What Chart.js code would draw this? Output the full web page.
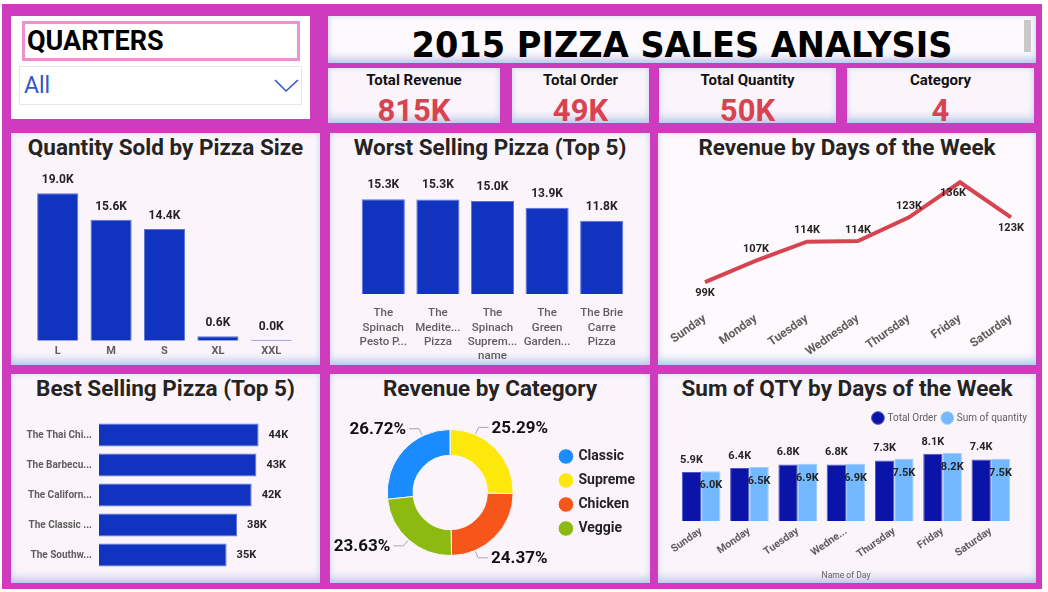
<!DOCTYPE html>
<html>
<head>
<meta charset="utf-8">
<script src="https://cdn.jsdelivr.net/npm/chart.js@4.4.0/dist/chart.umd.min.js"></script>
<style>
  body { margin:0; width:1048px; height:592px; background:#fff; position:relative; overflow:hidden; font-family:Roboto, "Noto Sans", sans-serif; }
  #bg { position:absolute; left:2px; top:4px; width:1040px; height:585px; background:#cf3bbf; }
  .card { position:absolute; background:#fbf4fb; box-shadow:inset 0 -8px 10px -4px #b3c6e6, inset 0 0 6px #d5e0f1; }
  .ttl { position:absolute; left:0; right:0; text-align:center; font-weight:700; font-size:22.5px; line-height:24px; color:#252423; }
  .box { position:absolute; }
  .kl { position:absolute; left:0; right:0; top:3px; text-align:center; font-weight:700; font-size:15px; color:#111; }
  .kv { position:absolute; left:0; right:0; top:27px; text-align:center; font-weight:700; font-size:31px; line-height:32px; color:#d9434f; }
</style>
</head>
<body>
<div id="bg"></div>

<!-- slicer -->
<div class="box" style="left:11px;top:16px;width:299px;height:103px;background:#fff;"></div>
<div class="box" style="left:22px;top:21px;width:272px;height:34px;border:3px solid #ee92cf;background:#fff;">
  <div style="position:absolute;left:2px;top:1px;font-weight:700;font-size:27px;line-height:32px;color:#000;">QUARTERS</div>
</div>
<div class="box" style="left:19px;top:66px;width:281px;height:37px;border:1px solid #e6e6e6;background:#fff;">
  <div style="position:absolute;left:4px;top:6px;font-size:23px;line-height:26px;color:#2f55c8;">All</div>
  <svg style="position:absolute;left:254px;top:11px" width="26" height="16"><polyline points="1,2 12,13 24,2" fill="none" stroke="#2f55c8" stroke-width="1.6"/></svg>
</div>

<!-- title -->
<div class="card" style="left:328px;top:16px;width:708px;height:47px;background:#fdf9fd;">
  <div style="position:absolute;left:0;right:0;top:9px;text-align:center;font-family:'DejaVu Sans';font-weight:700;font-size:35px;line-height:40px;color:#000;transform:scaleX(0.96);">2015 PIZZA SALES ANALYSIS</div>
  <div style="position:absolute;left:696px;top:4px;width:7px;height:32px;background:#c8c8c8;"></div>
</div>

<!-- kpis -->
<div class="card" style="left:328px;top:68px;width:172px;height:55px;"><div class="kl">Total Revenue</div><div class="kv" id="kRev"></div></div>
<div class="card" style="left:512px;top:68px;width:137px;height:55px;"><div class="kl">Total Order</div><div class="kv" id="kOrd"></div></div>
<div class="card" style="left:659px;top:68px;width:177px;height:55px;"><div class="kl">Total Quantity</div><div class="kv" id="kQty"></div></div>
<div class="card" style="left:847px;top:68px;width:187px;height:55px;"><div class="kl">Category</div><div class="kv" id="kCat"></div></div>

<!-- panels row 2 -->
<div class="card" style="left:11px;top:133px;width:309px;height:232px;"><div class="ttl" style="top:2px">Quantity Sold by Pizza Size</div></div>
<div class="card" style="left:330px;top:133px;width:320px;height:232px;"><div class="ttl" style="top:2px">Worst Selling Pizza (Top 5)</div></div>
<div class="card" style="left:658px;top:133px;width:378px;height:232px;background:#fdf9fd;"><div class="ttl" style="top:2px">Revenue by Days of the Week</div></div>
<!-- panels row 3 -->
<div class="card" style="left:11px;top:374px;width:309px;height:209px;"><div class="ttl" style="top:2px">Best Selling Pizza (Top 5)</div></div>
<div class="card" style="left:330px;top:374px;width:320px;height:209px;"><div class="ttl" style="top:2px">Revenue by Category</div></div>
<div class="card" style="left:658px;top:374px;width:378px;height:209px;"><div class="ttl" style="top:2px">Sum of QTY by Days of the Week</div></div>

<div class="box" style="left:11px;top:160px;width:309px;height:205px;"><canvas id="c1"></canvas></div>
<div class="box" style="left:330px;top:160px;width:320px;height:205px;"><canvas id="c2"></canvas></div>
<div class="box" style="left:658px;top:160px;width:378px;height:205px;"><canvas id="c3"></canvas></div>
<div class="box" style="left:11px;top:405px;width:309px;height:178px;"><canvas id="c4"></canvas></div>
<div class="box" style="left:330px;top:400px;width:320px;height:183px;"><canvas id="c5"></canvas></div>
<div class="box" style="left:658px;top:405px;width:378px;height:178px;"><canvas id="c6"></canvas></div>

<script>
// kpis
const kpiRevenue = '815K';
const kpiOrders = '49K';
const kpiQuantity = '50K';
const kpiCategories = '4';

// quantity by size
const sizeLabels = ['L', 'M', 'S', 'XL', 'XXL'];
const sizeQty = [19000, 15600, 14400, 600, 28];

// worst sellers
const worstNames = [['The', 'Spinach', 'Pesto P...'], ['The', 'Medite...', 'Pizza'], ['The', 'Spinach', 'Suprem...'], ['The', 'Green', 'Garden...'], ['The Brie', 'Carre', 'Pizza']];
const worstValues = [15300, 15250, 15000, 13900, 11800];

// revenue by day
const days = ['Sunday', 'Monday', 'Tuesday', 'Wednesday', 'Thursday', 'Friday', 'Saturday'];
const dayRevenue = [99000, 107000, 114000, 114200, 123000, 136000, 123000];

// best sellers
const bestNames = ['The Thai Chi...', 'The Barbecu...', 'The Californ...', 'The Classic ...', 'The Southw...'];
const bestValues = [43900, 43300, 42000, 38000, 35100];

// revenue share by category
const categories = ['Classic', 'Supreme', 'Chicken', 'Veggie'];
const categoryShare = [26.72, 25.29, 24.37, 23.63];

// orders / quantity by day
const qtyDays = ['Sunday', 'Monday', 'Tuesday', 'Wedne...', 'Thursday', 'Friday', 'Saturday'];
const dayOrders = [5900, 6400, 6800, 6800, 7300, 8100, 7400];
const dayQuantity = [6000, 6500, 6900, 6900, 7500, 8200, 7500];

document.getElementById('kRev').textContent = kpiRevenue;
document.getElementById('kOrd').textContent = kpiOrders;
document.getElementById('kQty').textContent = kpiQuantity;
document.getElementById('kCat').textContent = kpiCategories;

Chart.defaults.font.family = 'Roboto';
Chart.defaults.animation = false;
Chart.defaults.maintainAspectRatio = false;
Chart.defaults.plugins.tooltip.enabled = false;

const k1 = v => (v / 1000).toFixed(1) + 'K';
const k0 = v => Math.round(v / 1000) + 'K';
const tickGray = '#605e5c';
const barBlue = '#1034c0';
const noGrid = { display: false, drawTicks: false };

// draws value labels next to each element
function labelPlugin(sets) {
  return {
    id: 'valueLabels',
    afterDatasetsDraw(chart) {
      const ctx = chart.ctx;
      sets.forEach((set, di) => {
        if (!set) return;
        const ds = chart.data.datasets[di];
        chart.getDatasetMeta(di).data.forEach((el, i) => {
          const p = set.pos(el, i);
          ctx.save();
          ctx.font = set.font || 'bold 12px Roboto';
          ctx.fillStyle = set.color || '#252423';
          ctx.textAlign = set.align || 'center';
          ctx.textBaseline = 'middle';
          ctx.fillText(set.format(ds.data[i]), p.x, p.y);
          ctx.restore();
        });
      });
    }
  };
}

new Chart(document.getElementById('c1'), {
  type: 'bar',
  data: {
    labels: sizeLabels,
    datasets: [{ data: sizeQty, backgroundColor: barBlue, borderColor: '#5b74d6', borderWidth: 1,
      barPercentage: 0.77, categoryPercentage: 1, minBarLength: 1 }]
  },
  options: {
    layout: { padding: { left: 20, right: 22, top: 10, bottom: 3 } },
    plugins: { legend: { display: false } },
    scales: {
      x: { grid: noGrid, border: { display: false },
        ticks: { color: tickGray, font: { size: 11, weight: 'bold' }, padding: 4 } },
      y: { display: false, min: 0, max: 22000 }
    }
  },
  plugins: [labelPlugin([{ format: k1, font: 'bold 12px Roboto', pos: el => ({ x: el.x, y: el.y - 13 }) }])]
});

new Chart(document.getElementById('c2'), {
  type: 'bar',
  data: {
    labels: worstNames,
    datasets: [{ data: worstValues, backgroundColor: barBlue, borderColor: '#5b74d6', borderWidth: 1,
      barPercentage: 0.79, categoryPercentage: 1 }]
  },
  options: {
    layout: { padding: { left: 26, right: 21, top: 10, bottom: 0 } },
    plugins: { legend: { display: false } },
    scales: {
      x: { grid: noGrid, border: { display: false },
        ticks: { maxRotation: 0, minRotation: 0, autoSkip: false, color: tickGray,
          font: { size: 11.5, weight: '500', lineHeight: 1.25 }, padding: 12 },
        title: { display: true, text: 'name', color: tickGray, font: { size: 11.5, weight: '500' }, padding: { top: -12, bottom: 2 } } },
      y: { display: false, min: 0, max: 20000 }
    }
  },
  plugins: [labelPlugin([{ format: k1, font: 'bold 12px Roboto', pos: el => ({ x: el.x, y: el.y - 14 }) }])]
});

const lineBelow = [true, false, false, false, false, true, true];
new Chart(document.getElementById('c3'), {
  type: 'line',
  data: {
    labels: days,
    datasets: [{ data: dayRevenue, borderColor: '#d7444f', borderWidth: 4, pointRadius: 0, tension: 0 }]
  },
  options: {
    layout: { padding: { left: 47, right: 25, top: 5, bottom: 8 } },
    plugins: { legend: { display: false } },
    scales: {
      x: { offset: false, grid: { display: false }, border: { display: false },
        ticks: { minRotation: 35, maxRotation: 35, color: tickGray, font: { size: 12, weight: 'bold' }, padding: -2 } },
      y: { display: false, min: 90300, max: 142400 }
    }
  },
  plugins: [labelPlugin([{ format: k0, font: 'bold 11px Roboto',
    pos: (el, i) => ({ x: el.x + (i === 5 ? -7 : 0), y: el.y + (lineBelow[i] ? 11 : -11) }) }])]
});

new Chart(document.getElementById('c4'), {
  type: 'bar',
  data: {
    labels: bestNames,
    datasets: [{ data: bestValues, backgroundColor: barBlue, borderColor: '#5b74d6', borderWidth: 1,
      barPercentage: 0.77, categoryPercentage: 1 }]
  },
  options: {
    indexAxis: 'y',
    layout: { padding: { left: 8, right: 32, top: 15, bottom: 13 } },
    plugins: { legend: { display: false } },
    scales: {
      x: { display: false, min: 0, max: 52000 },
      y: { grid: noGrid, border: { display: false },
        ticks: { color: tickGray, font: { size: 10, weight: 'bold' }, padding: 7 },
        afterFit(s) { s.width = 80; } }
    }
  },
  plugins: [labelPlugin([{ format: k0, font: 'bold 11px Roboto', align: 'left', pos: el => ({ x: el.x + 10, y: el.y }) }])]
});

// leader-line labels outside the donut
const pieNudge = [22, -22, 22, 0];
const donutLabels = {
  id: 'donutLabels',
  afterDatasetsDraw(chart) {
    const ctx = chart.ctx;
    chart.getDatasetMeta(0).data.forEach((arc, i) => {
      const a = (arc.startAngle + arc.endAngle) / 2 + pieNudge[i] * Math.PI / 180;
      const r = arc.outerRadius;
      const x0 = arc.x + Math.cos(a) * (r + 1), y0 = arc.y + Math.sin(a) * (r + 1);
      const x1 = arc.x + Math.cos(a) * (r + 8), y1 = arc.y + Math.sin(a) * (r + 8);
      const dir = Math.cos(a) >= 0 ? 1 : -1;
      const x2 = x1 + dir * 10;
      ctx.save();
      ctx.strokeStyle = '#a8a8a8';
      ctx.lineWidth = 1;
      ctx.beginPath();
      ctx.moveTo(x0, y0); ctx.lineTo(x1, y1); ctx.lineTo(x2, y1);
      ctx.stroke();
      ctx.font = 'bold 17px Roboto';
      ctx.fillStyle = '#111';
      ctx.textAlign = dir > 0 ? 'left' : 'right';
      ctx.textBaseline = 'middle';
      ctx.fillText(categoryShare[i].toFixed(2) + '%', x2 + dir * 3, y1 + 1);
      ctx.restore();
    });
  }
};

new Chart(document.getElementById('c5'), {
  type: 'doughnut',
  data: {
    labels: categories,
    datasets: [{ data: categoryShare, backgroundColor: ['#1a8cff', '#fde80b', '#f6561a', '#8cba10'],
      borderColor: '#fbf4fb', borderWidth: 1 }]
  },
  options: {
    rotation: -categoryShare[0] / 100 * 360,
    radius: 63,
    cutout: '59%',
    layout: { padding: { left: 20, right: 5, top: 2, bottom: 0 } },
    plugins: {
      legend: { position: 'right',
        labels: { usePointStyle: true, pointStyle: 'circle', boxWidth: 11, boxHeight: 11, padding: 10,
          color: '#252423', font: { size: 14, weight: 'bold' } } }
    }
  },
  plugins: [donutLabels]
});

new Chart(document.getElementById('c6'), {
  type: 'bar',
  data: {
    labels: qtyDays,
    datasets: [
      { label: 'Total Order', data: dayOrders, backgroundColor: '#0a14a8', borderColor: '#4b57c4', borderWidth: 1,
        categoryPercentage: 0.8, barPercentage: 1 },
      { label: 'Sum of quantity', data: dayQuantity, backgroundColor: '#72b9ff', borderColor: '#9ccdff', borderWidth: 1,
        categoryPercentage: 0.8, barPercentage: 1 }
    ]
  },
  options: {
    layout: { padding: { left: 19, right: 3, top: 2, bottom: 2 } },
    plugins: {
      legend: { position: 'top', align: 'end',
        labels: { usePointStyle: true, pointStyle: 'circle', boxWidth: 9, boxHeight: 9, padding: 6,
          color: tickGray, font: { size: 10 } } }
    },
    scales: {
      x: { grid: noGrid, border: { display: false },
        ticks: { minRotation: 35, maxRotation: 35, color: tickGray, font: { size: 10.5, weight: 'bold' }, padding: 4 },
        title: { display: true, text: 'Name of Day', color: tickGray, font: { size: 8.5 }, padding: { top: 6, bottom: 0 } } },
      y: { position: 'right', min: 0, max: 10600, grid: noGrid, border: { display: false },
        ticks: { display: false }, afterFit(s) { s.width = 18; } }
    }
  },
  plugins: [labelPlugin([
    { format: k1, font: 'bold 11px Roboto', pos: el => ({ x: el.x, y: el.y - 12 }) },
    { format: k1, font: 'bold 11px Roboto', pos: el => ({ x: el.x, y: el.y + 14 }) }
  ])]
});
</script>
</body>
</html>
